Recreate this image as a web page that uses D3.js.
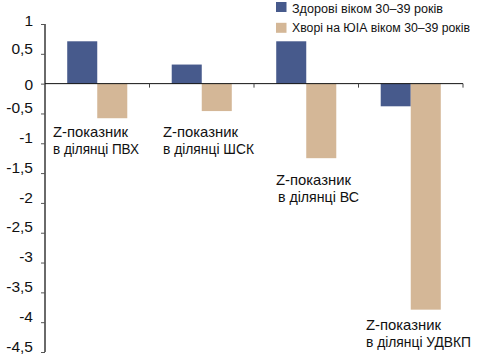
<!DOCTYPE html>
<html><head><meta charset="utf-8">
<script src="https://cdn.jsdelivr.net/npm/d3@7"></script>
<style>
body{margin:0;background:#fff;}
text{font-family:"Liberation Sans",Arial,sans-serif;fill:#111;}
</style></head><body>
<svg id="c" width="478" height="354"></svg>
<script>
const categories = ["ПВХ","ШСК","ВС","УДВКП"];
const seriesNames = ["Здорові віком 30–39 років","Хворі на ЮІА віком 30–39 років"];
const healthy = [0.71, 0.32, 0.71, -0.38];
const patients = [-0.58, -0.46, -1.25, -3.79];
const yTicks = [1,0.5,0,-0.5,-1,-1.5,-2,-2.5,-3,-3.5,-4,-4.5];
const colors = ["#475a8c","#d4b797"];

const svg = d3.select("#c");
const x0 = 45, x1 = 463;
const y = d3.scaleLinear().domain([1,-4.5]).range([24,352]);
const xb = d3.scaleBand().domain(categories).range([x0,x1]).paddingInner(0).paddingOuter(0);
const xs = d3.scaleBand().domain([0,1]).range([0, xb.bandwidth()]).paddingOuter(0.74).paddingInner(0);

// bars
const data = categories.map((c,i)=>({c, v:[healthy[i], patients[i]]}));
const g = svg.append("g");
g.selectAll("g").data(data).enter().append("g")
  .attr("transform", d=>`translate(${xb(d.c)},0)`)
  .selectAll("rect").data(d=>d.v).enter().append("rect")
  .attr("x", (v,j)=>xs(j))
  .attr("width", xs.bandwidth())
  .attr("y", v=>Math.min(y(v),y(0)))
  .attr("height", v=>Math.abs(y(v)-y(0)))
  .attr("fill", (v,j)=>colors[j]);

// y axis
const yAxis = d3.axisLeft(y).tickValues(yTicks).tickSize(4).tickPadding(8)
  .tickFormat(d => String(d).replace(".", ","));
const ga = svg.append("g").attr("transform",`translate(${x0},0)`).call(yAxis);
ga.select(".domain").attr("stroke","#6a6a6a").attr("stroke-width",2).attr("d",`M0,${y(1)}V${y(-4.5)}`);
ga.selectAll(".tick line").attr("stroke","#555");
ga.selectAll(".tick text")
  .style("font-size","15.5px").attr("fill","#111")
  .attr("dy", d => d===0 ? "0.36em" : (d===1 ? "0.1em" : "-0.05em"));

// x axis line at zero
svg.append("line").attr("x1",x0).attr("x2",x1).attr("y1",y(0)).attr("y2",y(0)).attr("stroke","#111").attr("stroke-width",1);
svg.selectAll(".ct").data(categories).enter().append("line")
  .attr("x1",c=>xb(c)+xb.bandwidth()).attr("x2",c=>xb(c)+xb.bandwidth())
  .attr("y1",y(0)).attr("y2",y(0)+4).attr("stroke","#444");

// category labels
const labelPos = [[53,137],[163,137],[276,185],[366,330]];
const line2W = [86, 91, 81, 105];
categories.forEach((c,i)=>{
  const t = svg.append("text").attr("x",labelPos[i][0]).attr("y",labelPos[i][1]).style("font-size","14.5px");
  t.append("tspan").attr("x",labelPos[i][0]).attr("textLength",75).attr("lengthAdjust","spacingAndGlyphs").text("Z-показник");
  t.append("tspan").attr("x",labelPos[i][0]+(i===2?2:0)).attr("dy",17)
    .attr("textLength",line2W[i]).attr("lengthAdjust","spacingAndGlyphs").text("в ділянці "+c);
});

// legend
const legW = [151, 178];
seriesNames.forEach((s,i)=>{
  svg.append("rect").attr("x",276).attr("y",2+i*20.8).attr("width",10.5).attr("height",10).attr("fill",colors[i]);
  svg.append("text").attr("x",292).attr("y",12.5+i*19.3).style("font-size","12.5px")
    .attr("textLength",legW[i]).attr("lengthAdjust","spacingAndGlyphs").text(s);
});
</script></body></html>
